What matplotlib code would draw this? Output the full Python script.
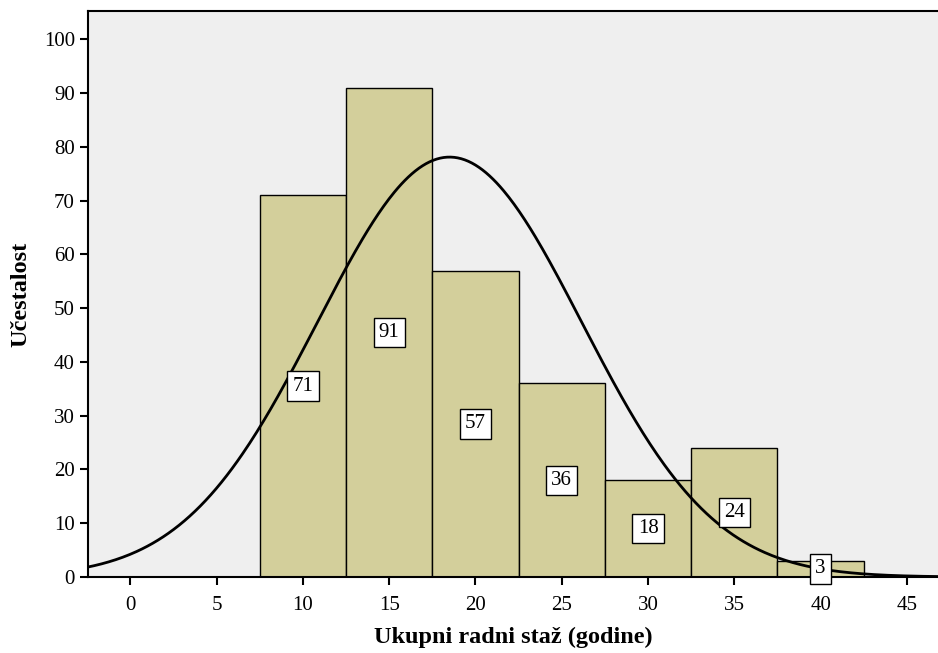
import numpy as np
import matplotlib
matplotlib.use('Agg')
import matplotlib.pyplot as plt

# histogram data (bin centers, counts)
centers = [10, 15, 20, 25, 30, 35, 40]
counts = [71, 91, 57, 36, 18, 24, 3]
bin_width = 5
# fitted normal curve parameters
mean = 18.5
std = 7.66
n_total = sum(counts)

plt.rcParams['font.family'] = ['Liberation Serif', 'DejaVu Serif']

fig = plt.figure(figsize=(9.38, 6.53), dpi=100)
ax = fig.add_axes([88 / 938, 1 - 577 / 653, 1 - 88 / 938, (577 - 11) / 653])
ax.set_facecolor('#efefef')

ax.bar(centers, counts, width=bin_width, color='#d3cf9b', edgecolor='black', linewidth=1, zorder=2)

xs = np.linspace(-3, 48, 500)
ys = n_total * bin_width / (std * np.sqrt(2 * np.pi)) * np.exp(-0.5 * ((xs - mean) / std) ** 2)
ax.plot(xs, ys, color='black', linewidth=2, zorder=3)

for c, v in zip(centers, counts):
    ax.text(c, v / 2, str(v), ha='center', va='center', fontsize=15, zorder=4,
            bbox=dict(boxstyle='square,pad=0.25', facecolor='white', edgecolor='black', linewidth=1))

ax.set_xlim(-2.45, 46.8)
ax.set_ylim(0, 105.3)
ax.set_xticks(range(0, 50, 5))
ax.set_yticks(range(0, 110, 10))
ax.tick_params(labelsize=15, length=6, width=1.5, direction='out')
ax.tick_params(axis='x', pad=8)
ax.spines['right'].set_visible(False)
for s in ['left', 'bottom', 'top']:
    ax.spines[s].set_linewidth(1.5)

ax.set_xlabel('Ukupni radni staž (godine)', fontsize=17.5, fontweight='bold', labelpad=8)
ax.set_ylabel('Učestalost', fontsize=17.5, fontweight='bold', labelpad=9)

fig.savefig('out.png', dpi=100)
